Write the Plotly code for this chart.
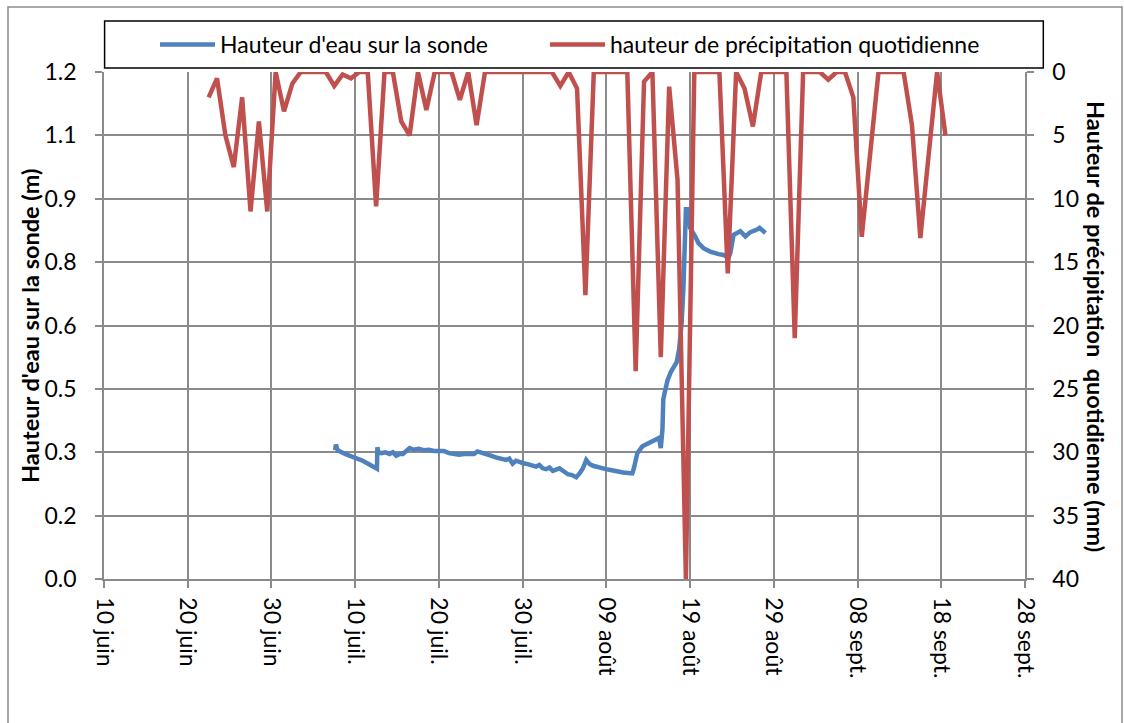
import plotly.graph_objects as go
import pandas as pd

BASE = pd.Timestamp("2013-06-10")

# Daily precipitation (mm), one value per day starting 22 June
rain_first_day = "2013-06-22"
rain_mm = [
    2.0, 0.5, 5.0, 7.5, 2.0, 11.0, 3.9, 11.0, 0.0, 3.1,
    0.9, 0.0, 0.0, 0.0, 0.0, 1.1, 0.2, 0.5, 0.0, 0.0,
    10.6, 0.0, 0.0, 3.9, 5.0, 0.0, 3.0, 0.0, 0.0, 0.0,
    2.2, 0.0, 4.2, 0.0, 0.0, 0.0, 0.0, 0.0, 0.0, 0.0,
    0.0, 0.0, 1.1, 0.0, 1.3, 17.6, 0.0, 0.0, 0.0, 0.0,
    0.0, 23.6, 0.75, 0.0, 22.5, 1.15, 8.5, 40.0, 0.0, 0.0,
    0.0, 0.0, 15.9, 0.0, 1.3, 4.3, 0.0, 0.0, 0.0, 0.0,
    21.0, 0.0, 0.0, 0.0, 0.6, 0.0, 0.0, 2.0, 13.0, 6.8,
    0.0, 0.0, 0.0, 0.0, 4.2, 13.1, 6.5, 0.0, 5.0,
]

# Water height on the probe: time (days after 10 June) and value (m)
probe_day = [
    27.6, 27.7, 27.9, 28.3, 28.8, 29.3, 30.1, 30.9, 31.7, 32.5,
    32.6, 32.65, 32.75, 33.1, 33.6, 34.1, 34.5, 34.9, 35.3, 35.7,
    36.1, 36.5, 37.0, 37.6, 38.2, 38.8, 39.4, 40.0, 40.6, 41.2,
    41.8, 42.4, 43.0, 43.6, 44.2, 44.6, 45.1, 45.6, 46.2, 46.8,
    47.4, 48.0, 48.4, 48.8, 49.2, 49.6, 50.1, 50.6, 51.1, 51.6,
    52.0, 52.4, 52.8, 53.2, 53.6, 54.0, 54.4, 54.9, 55.4, 55.9,
    56.4, 56.8, 57.2, 57.6, 58.0, 58.4, 59.0, 59.6, 60.2, 60.8,
    61.4, 62.0, 62.6, 63.1, 63.3, 63.7, 64.3, 65.1, 65.9, 66.3,
    66.5, 66.7, 66.8, 67.1, 67.3, 67.7, 68.4, 68.7, 69.0, 69.2,
    69.4, 69.5, 69.8, 70.0, 70.6, 71.0, 71.6, 72.4, 73.4, 74.0,
    74.6, 74.8, 75.2, 76.0, 76.6, 77.2, 78.0, 78.3, 79.0,
]
probe_m = [
    0.305, 0.318, 0.305, 0.300, 0.296, 0.292, 0.287, 0.280, 0.271, 0.264,
    0.261, 0.312, 0.300, 0.298, 0.300, 0.296, 0.300, 0.292, 0.296, 0.296,
    0.305, 0.310, 0.306, 0.308, 0.305, 0.306, 0.303, 0.302, 0.303, 0.298,
    0.297, 0.294, 0.296, 0.296, 0.296, 0.302, 0.298, 0.294, 0.292, 0.288,
    0.285, 0.282, 0.285, 0.273, 0.280, 0.276, 0.274, 0.272, 0.270, 0.266,
    0.270, 0.262, 0.260, 0.264, 0.256, 0.259, 0.262, 0.255, 0.248, 0.246,
    0.241, 0.250, 0.262, 0.282, 0.272, 0.268, 0.266, 0.262, 0.259, 0.256,
    0.255, 0.252, 0.251, 0.250, 0.263, 0.298, 0.314, 0.322, 0.330, 0.334,
    0.310, 0.355, 0.426, 0.450, 0.470, 0.490, 0.513, 0.545, 0.609, 0.688,
    0.791, 0.875, 0.875, 0.831, 0.811, 0.795, 0.783, 0.775, 0.769, 0.767,
    0.761, 0.771, 0.815, 0.823, 0.811, 0.821, 0.827, 0.831, 0.819,
]

x_tick_labels = ["10 juin", "20 juin", "30 juin", "10 juil.", "20 juil.", "30 juil.",
                 "09 août", "19 août", "29 août", "08 sept.", "18 sept.", "28 sept."]
left_tick_vals = [0.0, 0.15, 0.3, 0.45, 0.6, 0.75, 0.9, 1.05, 1.2]
left_tick_text = ["0.0", "0.2", "0.3", "0.5", "0.6", "0.8", "0.9", "1.1", "1.2"]
right_tick_vals = [0, 5, 10, 15, 20, 25, 30, 35, 40]

rain_x = pd.date_range(pd.Timestamp(rain_first_day) + pd.Timedelta(hours=12),
                       periods=len(rain_mm), freq="D")
probe_x = [BASE + pd.Timedelta(days=d) for d in probe_day]
tick_x = pd.date_range(BASE, periods=len(x_tick_labels), freq="10D")

FONT = "Lato"
GRID = "#8a8a8a"
W, H = 1124, 723
L, R, T, B = 104, 99, 72, 144
pw, ph = W - L - R, H - T - B
FS = 23


def px(x):
    return (x - L) / pw


def py(y):
    return (H - B - y) / ph


fig = go.Figure()
fig.add_trace(go.Scatter(
    x=probe_x, y=probe_m, mode="lines", name="Hauteur d'eau sur la sonde",
    line=dict(color="#4F81BD", width=4.5), yaxis="y", legend="legend",
))
fig.add_trace(go.Scatter(
    x=rain_x, y=rain_mm, mode="lines", name="hauteur de précipitation quotidienne",
    line=dict(color="#C0504D", width=4.5), yaxis="y2", legend="legend2",
))

axis_common = dict(
    showline=True, linecolor=GRID, linewidth=1.5,
    ticks="outside", ticklen=7, tickcolor=GRID, tickwidth=1.5,
    tickfont=dict(family=FONT, size=FS, color="black"),
    zeroline=False,
)

legend_common = dict(
    orientation="h", xanchor="left", yanchor="middle", y=py(44.5),
    font=dict(family=FONT, size=FS, color="black"),
    bgcolor="rgba(0,0,0,0)", borderwidth=0, itemwidth=55,
)

fig.update_layout(
    width=W, height=H,
    margin=dict(l=L, r=R, t=T, b=B, pad=0),
    paper_bgcolor="white", plot_bgcolor="white",
    font=dict(family=FONT, size=FS, color="black"),
    xaxis=dict(
        type="date",
        range=[BASE, BASE + pd.Timedelta(days=110)],
        tickvals=tick_x, ticktext=x_tick_labels, tickangle=90,
        showgrid=True, gridcolor=GRID, gridwidth=1.5,
        ticklabelstandoff=5,
        **axis_common,
    ),
    yaxis=dict(
        range=[0, 1.2], tickvals=left_tick_vals, ticktext=left_tick_text,
        showgrid=True, gridcolor=GRID, gridwidth=1.5,
        ticklabelstandoff=14,
        **axis_common,
    ),
    yaxis2=dict(
        overlaying="y", side="right", range=[40, 0],
        tickvals=right_tick_vals, ticktext=[str(v) for v in right_tick_vals],
        showgrid=False, ticklabelstandoff=14,
        **axis_common,
    ),
    legend=dict(x=px(155), **legend_common),
    legend2=dict(x=px(545), **legend_common),
    showlegend=True,
    annotations=[
        dict(text="<b>Hauteur d'eau sur la sonde (m)</b>", textangle=-90,
             xref="paper", yref="paper", x=px(30), y=py(326),
             xanchor="center", yanchor="middle", showarrow=False,
             font=dict(family=FONT, size=23.5, color="black")),
        dict(text="<b>Hauteur de précipitation  quotidienne (mm)</b>", textangle=90,
             xref="paper", yref="paper", x=px(1096), y=py(326),
             xanchor="center", yanchor="middle", showarrow=False,
             font=dict(family=FONT, size=23.5, color="black")),
    ],
    shapes=[
        dict(type="rect", xref="paper", yref="paper",
             x0=px(104.6), x1=px(1043.3), y0=py(68), y1=py(21),
             line=dict(color="black", width=1.5), fillcolor="rgba(0,0,0,0)"),
        dict(type="rect", xref="paper", yref="paper",
             x0=px(8), x1=px(1122), y0=py(740), y1=py(7),
             line=dict(color="#8c8c8c", width=1.5), fillcolor="rgba(0,0,0,0)"),
    ],
)

fig.write_html("out.html")
